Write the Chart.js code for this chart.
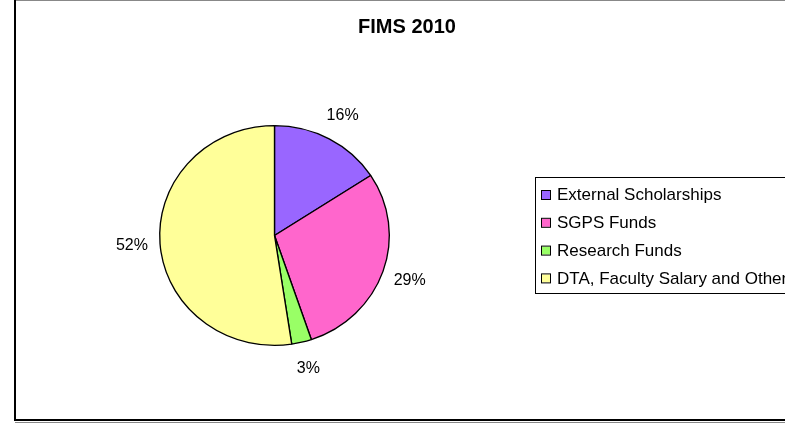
<!DOCTYPE html>
<html>
<head>
<meta charset="utf-8">
<script src="https://cdn.jsdelivr.net/npm/chart.js@4"></script>
<style>
html,body{margin:0;padding:0;background:#fff;}
#wrap{position:relative;width:785px;height:423px;}
</style>
</head>
<body>
<div id="wrap"><canvas id="c" width="785" height="423"></canvas></div>
<script>
const chartTitle = "FIMS 2010";
const categories = ["External Scholarships", "SGPS Funds", "Research Funds", "DTA, Faculty Salary and Other"];
const shares = [15.8, 29.0, 2.8, 52.4];
const colors = ["#9966FF", "#FF66CC", "#99FF66", "#FFFF99"];

const FONT = '"Liberation Sans", Arial, sans-serif';
const XSTRETCH = 1.045;

const decor = {
  id: 'decor',
  beforeDatasetsDraw(chart) {
    const a = chart.getDatasetMeta(0).data[0];
    const ctx = chart.ctx;
    ctx.save();
    ctx.translate(a.x, 0);
    ctx.scale(XSTRETCH, 1);
    ctx.translate(-a.x, 0);
  },
  afterDatasetsDraw(chart) {
    chart.ctx.restore();
  },
  afterDraw(chart) {
    const ctx = chart.ctx;
    ctx.save();
    // frame
    ctx.strokeStyle = '#888';
    ctx.lineWidth = 1;
    ctx.beginPath(); ctx.moveTo(15, 0.5); ctx.lineTo(785, 0.5); ctx.stroke();
    ctx.beginPath(); ctx.moveTo(15, 422.5); ctx.lineTo(785, 422.5); ctx.stroke();
    ctx.strokeStyle = '#000';
    ctx.lineWidth = 2;
    ctx.beginPath(); ctx.moveTo(15, 0); ctx.lineTo(15, 421); ctx.stroke();
    ctx.beginPath(); ctx.moveTo(14, 420); ctx.lineTo(785, 420); ctx.stroke();

    // title
    ctx.fillStyle = '#000';
    ctx.font = 'bold 20px ' + FONT;
    ctx.textAlign = 'center';
    ctx.textBaseline = 'middle';
    ctx.fillText(chartTitle, 407, 27);

    // outside percentage labels
    const meta = chart.getDatasetMeta(0);
    const data = chart.data.datasets[0].data;
    const total = data.reduce((a, b) => a + b, 0);
    ctx.font = '16px ' + FONT;
    ctx.fillStyle = '#000';
    meta.data.forEach((arc, i) => {
      const p = arc.getProps(['x', 'y', 'startAngle', 'endAngle', 'outerRadius'], true);
      const mid = (p.startAngle + p.endAngle) / 2;
      const d = p.outerRadius + 27;
      const x = p.x + Math.cos(mid) * d * XSTRETCH;
      const y = p.y + Math.sin(mid) * d;
      ctx.fillText(Math.round(data[i] / total * 100) + '%', x, y);
    });

    // legend
    ctx.strokeStyle = '#000';
    ctx.lineWidth = 1;
    ctx.strokeRect(535.5, 177.5, 300, 116);
    const rowY0 = 195, rowStep = 27.8;
    ctx.textAlign = 'left';
    ctx.font = '17px ' + FONT;
    chart.data.labels.forEach((lab, i) => {
      const y = rowY0 + i * rowStep;
      ctx.fillStyle = chart.data.datasets[0].backgroundColor[i];
      ctx.fillRect(542, y - 4, 8, 8);
      ctx.strokeStyle = '#000';
      ctx.strokeRect(541.5, y - 4.5, 9, 9);
      ctx.fillStyle = '#000';
      ctx.fillText(lab, 557, y + 0.5);
    });
    ctx.restore();
  }
};

new Chart(document.getElementById('c'), {
  type: 'pie',
  data: {
    labels: categories,
    datasets: [{
      data: shares,
      backgroundColor: colors,
      borderColor: '#000',
      borderWidth: 1.3
    }]
  },
  options: {
    responsive: false,
    animation: false,
    layout: { padding: { left: 163, right: 399, top: 125, bottom: 77 } },
    plugins: {
      legend: { display: false },
      title: { display: false },
      tooltip: { enabled: false }
    }
  },
  plugins: [decor]
});
</script>
</body>
</html>
